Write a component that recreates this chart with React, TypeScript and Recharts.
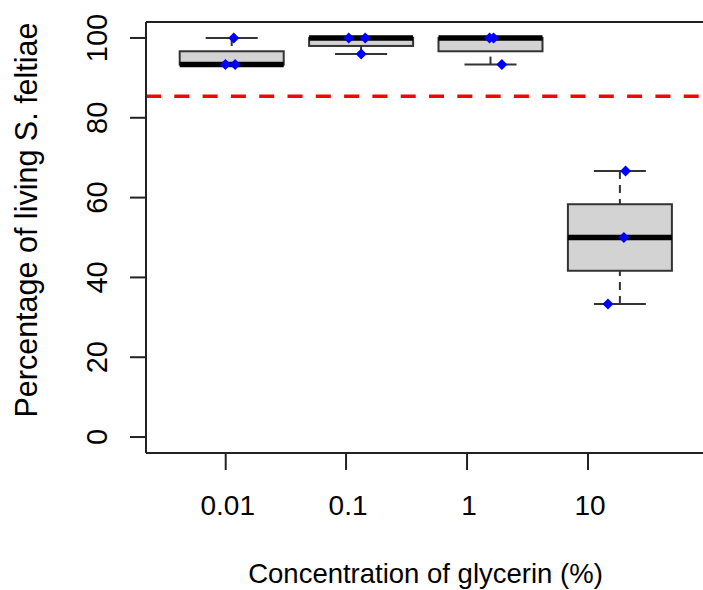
import React from 'react';
import { ComposedChart, Bar, Scatter, XAxis, YAxis, ReferenceLine, Label } from 'recharts';

const categories = ['0.01', '0.1', '1', '10'];
const positions = [1, 2, 3, 4];
const tickAt = [0.956, 1.886, 2.821, 3.756];
const replicates = [
  [100, 93.33, 93.33],
  [100, 100, 96],
  [100, 100, 93.33],
  [66.67, 50, 33.33],
];
// horizontal jitter of the blue points, in box units
const jitter = [
  [0.018, -0.046, 0.029],
  [-0.093, 0.034, 0.003],
  [-0.005, 0.026, 0.09],
  [0.046, 0.033, -0.09],
];
const controlLine = 85.4;
const yTicks = [0, 20, 40, 60, 80, 100];
const yDomain = [-4, 104];
const xDomain = [0.34, 4.66];

const FONT = '"Liberation Sans", Arial, sans-serif';

// Tukey five-number summary (same as R fivenum / boxplot stats)
function fivenum(vals: number[]) {
  const s = [...vals].sort((a, b) => a - b);
  const n = s.length;
  const n4 = Math.floor((n + 3) / 2) / 2;
  const d = [1, n4, (n + 1) / 2, n + 1 - n4, n];
  return d.map((i) => 0.5 * (s[Math.floor(i) - 1] + s[Math.ceil(i) - 1]));
}

const boxData = categories.map((c, i) => {
  const [min, q1, med, q3, max] = fivenum(replicates[i]);
  return { x: positions[i], label: c, min, q1, med, q3, max };
});

const pointData = replicates.flatMap((vals, i) =>
  vals.map((v, j) => ({ x: positions[i] + jitter[i][j], y: v }))
);

const BoxShape = (props: any) => {
  const { x, y, width, height, payload } = props;
  if (!payload) return null;
  const top = Math.min(y, y + height);
  const bottom = Math.max(y, y + height);
  const { min, q1, med, q3, max } = payload;
  const py = (v: number) => top + ((max - v) / (max - min)) * (bottom - top);
  const cx = x + width / 2;
  const half = width / 4;
  const edge = '#333';
  return (
    <g>
      <line x1={cx} x2={cx} y1={py(max)} y2={py(q3)} stroke={edge} strokeWidth={2} strokeDasharray="8 6" />
      <line x1={cx} x2={cx} y1={py(min)} y2={py(q1)} stroke={edge} strokeWidth={2} strokeDasharray="8 6" />
      <line x1={cx - half} x2={cx + half} y1={py(max)} y2={py(max)} stroke={edge} strokeWidth={2} />
      <line x1={cx - half} x2={cx + half} y1={py(min)} y2={py(min)} stroke={edge} strokeWidth={2} />
      <rect x={x} y={py(q3)} width={width} height={py(q1) - py(q3)} fill="#D3D3D3" stroke={edge} strokeWidth={2} />
      <line x1={x} x2={x + width} y1={py(med)} y2={py(med)} stroke="#000" strokeWidth={5.5} />
    </g>
  );
};

const Diamond = (props: any) => {
  const { cx, cy } = props;
  const r = 5.5;
  return <polygon points={`${cx},${cy - r} ${cx + r},${cy} ${cx},${cy + r} ${cx - r},${cy}`} fill="#0000FF" />;
};

const XTick = (props: any) => {
  const { x, y, index } = props;
  return (
    <text x={x + 2} y={y + 45} textAnchor="middle" fontSize={28} fontFamily={FONT} fill="#000">
      {categories[index]}
    </text>
  );
};

const YTick = (props: any) => {
  const { x, y, payload } = props;
  return (
    <text
      transform={`translate(${x - 23},${y}) rotate(-90)`}
      textAnchor="middle"
      fontSize={29}
      fontFamily={FONT}
      fill="#000"
    >
      {payload.value}
    </text>
  );
};

const XTitle = (props: any) => {
  const vb = props.viewBox;
  return (
    <text x={vb.x + vb.width / 2} y={vb.y + 130} textAnchor="middle" fontSize={27.5} fontFamily={FONT} fill="#000">
      Concentration of glycerin (%)
    </text>
  );
};

const YTitle = (props: any) => {
  const vb = props.viewBox;
  return (
    <text
      transform={`translate(${37},${vb.y + 198}) rotate(-90)`}
      textAnchor="middle"
      fontSize={30.5}
      fontFamily={FONT}
      fill="#000"
    >
      Percentage of living S. feltiae
    </text>
  );
};

export default function App() {
  return (
    <div style={{ position: 'absolute', left: 0, top: 0, width: 703, height: 590, overflow: 'hidden', background: '#fff' }}>
      <ComposedChart width={710} height={590} data={boxData} margin={{ top: 22, right: 5, bottom: 0, left: 0 }}>
        <XAxis
          type="number"
          dataKey="x"
          domain={xDomain}
          ticks={tickAt}
          interval={0}
          allowDataOverflow
          height={137}
          tickSize={17}
          tickMargin={0}
          tick={<XTick />}
          axisLine={{ stroke: '#222', strokeWidth: 2 }}
          tickLine={{ stroke: '#222', strokeWidth: 2 }}
        >
          <Label content={XTitle} />
        </XAxis>
        <XAxis xAxisId="pts" type="number" dataKey="x" domain={xDomain} allowDataOverflow hide />
        <YAxis
          type="number"
          domain={yDomain}
          ticks={yTicks}
          interval={0}
          allowDataOverflow
          width={146}
          tickSize={16}
          tickMargin={0}
          tick={<YTick />}
          axisLine={{ stroke: '#222', strokeWidth: 2 }}
          tickLine={{ stroke: '#222', strokeWidth: 2 }}
        >
          <Label content={YTitle} />
        </YAxis>
        <ReferenceLine y={yDomain[1]} stroke="#222" strokeWidth={2} />
        <ReferenceLine y={controlLine} stroke="#FF0000" strokeWidth={3.5} strokeDasharray="15 13.3" />
        <Bar dataKey={(d: any) => [d.min, d.max]} barSize={104} shape={<BoxShape />} isAnimationActive={false} />
        <Scatter xAxisId="pts" data={pointData} dataKey="y" shape={<Diamond />} isAnimationActive={false} />
      </ComposedChart>
    </div>
  );
}
